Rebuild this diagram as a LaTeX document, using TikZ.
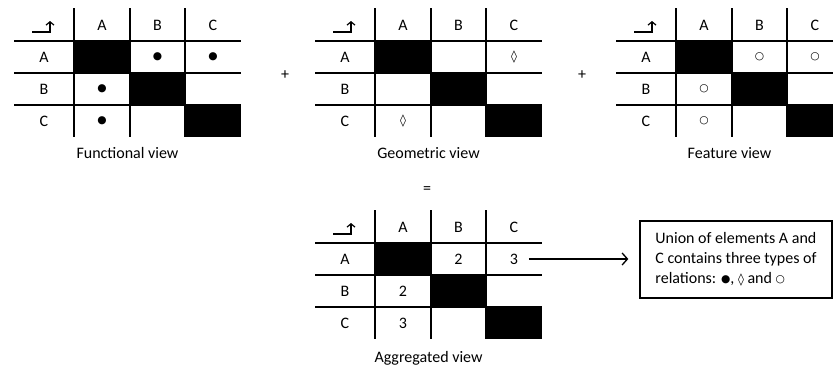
\documentclass[tikz,border=0pt]{standalone}
\usepackage{fontspec}
\setmainfont{Carlito}
\newfontfamily\symfont{DejaVu Sans}
\usetikzlibrary{arrows.meta,calc}
\tikzset{
  grid line/.style={line width=1.5pt},
  cellfill/.style={fill=black},
  lbl/.style={inner sep=0pt, font=\fontsize{12}{14}\selectfont},
  sym/.style={inner sep=0pt, font=\symfont\fontsize{8}{9}\selectfont},
  caption/.style={inner sep=0pt, font=\fontsize{12}{14}\selectfont},
  corner arrow/.style={line width=0.9pt, -{Straight Barb[length=2.5pt,width=6pt]}},
}
\newcommand\relgrid[3]{% name, x0, y0
  \begin{scope}[shift={(#2,#3)}]
    \fill[cellfill] (60,33) rectangle (116,65);
    \fill[cellfill] (116,65) rectangle (171,97);
    \fill[cellfill] (171,97) rectangle (227,129);
    \foreach \yy in {33,65,97} \draw[grid line] (0,\yy) -- (227,\yy);
    \foreach \xx in {60,116,171} \draw[grid line] (\xx,0) -- (\xx,129);
    \draw[corner arrow] (18,24) -- (36,24) -- (36,13);
    \node[lbl] (#1-hA) at (88,17) {A};
    \node[lbl] (#1-hB) at (143.5,17) {B};
    \node[lbl] (#1-hC) at (199,17) {C};
    \node[lbl] (#1-rA) at (30,49) {A};
    \node[lbl] (#1-rB) at (30,81) {B};
    \node[lbl] (#1-rC) at (30,113) {C};
    \coordinate (#1-AB) at (143.5,49);
    \coordinate (#1-AC) at (199,49);
    \coordinate (#1-BA) at (88,81);
    \coordinate (#1-CA) at (88,113);
    \coordinate (#1-cap) at (113.5,145);
  \end{scope}
}
\newcommand\dotsym{\raisebox{0.6pt}{\symfont\fontsize{8}{9}\selectfont●}}
\newcommand\lozsym{{\symfont\bfseries\fontsize{9}{9}\selectfont◊}}
\newcommand\circsym{\raisebox{0.6pt}{\symfont\fontsize{8}{9}\selectfont○}}
\begin{document}
\begin{tikzpicture}[x=0.75pt,y=-0.75pt]
\useasboundingbox (0,0) rectangle (833,372);
\clip (0,0) rectangle (833,372);
% Functional
\relgrid{f}{14}{8}
\node[sym] (fAB) at (f-AB) {●};
\node[sym] (fAC) at (f-AC) {●};
\node[sym] (fBA) at (f-BA) {●};
\node[sym] (fCA) at (f-CA) {●};
\node[caption] (fcap) at (f-cap) {Functional view};
% Geometric
\relgrid{g}{315}{8}
\node[sym] (gAC) at (g-AC) {\lozsym};
\node[sym] (gCA) at (g-CA) {\lozsym};
\node[caption] (gcap) at (g-cap) {Geometric view};
% Feature
\relgrid{h}{616}{8}
\node[sym] (hAB) at (h-AB) {○};
\node[sym] (hAC) at (h-AC) {○};
\node[sym] (hBA) at (h-BA) {○};
\node[sym] (hCA) at (h-CA) {○};
\node[caption] (hcap) at (h-cap) {Feature view};
% operators
\node[lbl] (plus1) at (285,75) {+};
\node[lbl] (plus2) at (582,75) {+};
\node[lbl] (eq) at (427,190) {=};
% Aggregated
\relgrid{a}{315}{210}
\node[lbl] (aAB) at (a-AB) {2};
\node[lbl] (aAC) at (a-AC) {3};
\node[lbl] (aBA) at (a-BA) {2};
\node[lbl] (aCA) at (a-CA) {3};
\node[caption] (acap) at ($(a-cap)+(0,3)$) {Aggregated view};
% note
\node[draw, line width=1.5pt, inner sep=0pt, align=left,
      font=\fontsize{12}{15}\selectfont, anchor=west,
      minimum height=77*0.75pt, minimum width=192*0.75pt] (note) at (639,259)
  {Union of elements A and\\C contains three types of\\relations: \dotsym, \lozsym{} and \circsym};
\draw[line width=1pt, -{Straight Barb[length=4pt,width=9pt]}] ([xshift=8pt]aAC.east) -- ([xshift=-8pt]note.west);
\end{tikzpicture}
\end{document}
